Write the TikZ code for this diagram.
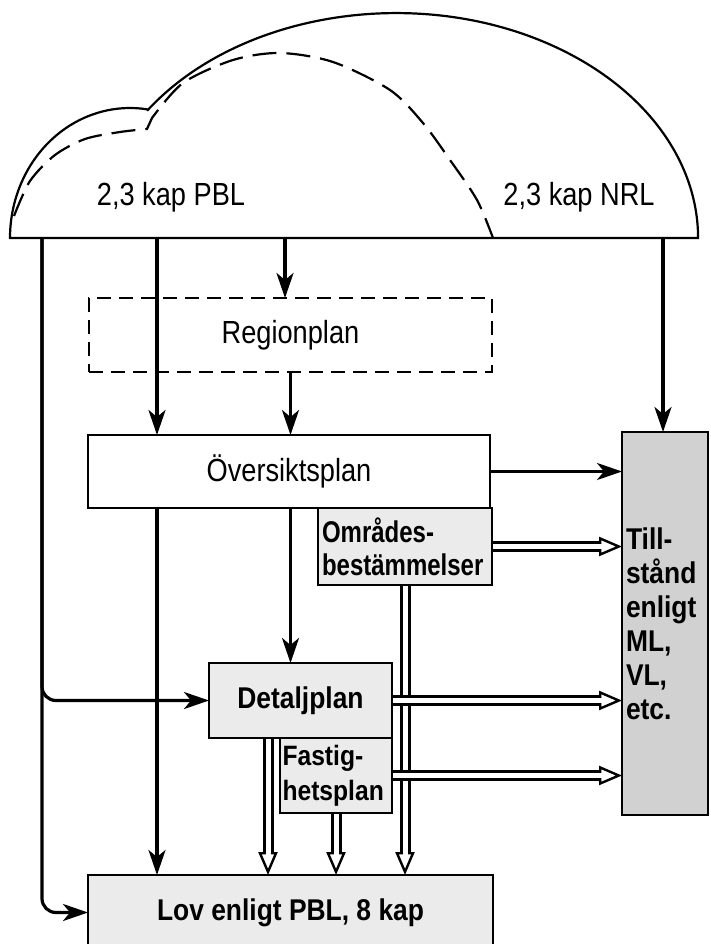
\documentclass[tikz,border=0pt]{standalone}
\usepackage{fontspec}
\setmainfont{Liberation Sans}[FakeStretch=0.85]
\newfontfamily\condfont{Liberation Sans}[FakeStretch=0.88]
\newfontfamily\narrowfont{Liberation Sans}[FakeStretch=0.8]
\usetikzlibrary{arrows.meta}
\begin{document}
\begin{tikzpicture}[x=1pt,y=1pt,
    font=\fontsize{32}{36}\selectfont,
    box/.style={draw,line width=2.6pt,inner sep=0pt,outer sep=0pt},
    greybox/.style={box,fill=black!8,font=\condfont\fontsize{30}{34}\selectfont\bfseries},
    arr/.style={line width=3.2pt,-{Stealth[length=25pt,width=17pt,inset=7pt]}},
    hollow/.style={line width=11pt,-{Triangle[length=23pt,width=19pt,line width=2.4pt,fill=white]},
        postaction={draw=white,line width=5pt,-,shorten >=19pt,shorten <=1.4pt}} ]
    \useasboundingbox (0,0) rectangle (710,-944);
    % the cloud
    \draw [line width=2.2pt] (10,-238) arc[start angle=180,end angle=82,x radius=120,y radius=130]
        -- (147.8,-110) arc[start angle=145.3,end angle=0,x radius=302,y radius=225] -- cycle;
    \draw [line width=2.2pt,dash pattern=on 24pt off 10pt]
        plot[smooth] coordinates {(14,-216) (30,-181) (55,-155) (85,-139) (120,-132) (147,-129)}
        -- plot[smooth] coordinates {(152,-118) (183,-83) (233,-60) (280,-53) (333,-62)
        (390,-90) (423,-123) (450,-160) (477,-200) (493,-238)};
    \node at (171,-197) (pbl) {2,3 kap PBL};
    \node at (579,-197) (nrl) {2,3 kap NRL};
    \coordinate (c1) at (42,-238);
    \coordinate (c2) at (157,-238);
    \coordinate (c3) at (285,-238);
    \coordinate (c4) at (663,-238);
    % plans
    \node at (290.5,-335) [box,dash pattern=on 14pt off 8pt,minimum width=403pt,minimum height=74pt] (region) {Regionplan};
    \node at (289,-471.5) [box,minimum width=402pt,minimum height=73pt] (oversikt) {Översiktsplan};
    \node at (405,-546.5) [greybox,minimum width=174pt,minimum height=77pt,text width=166pt,align=left,
        font=\narrowfont\fontsize{30}{33}\selectfont\bfseries] (omrades) {Områdes-\\bestämmelser};
    \node at (300.5,-700.5) [greybox,minimum width=183pt,minimum height=75pt] (detalj) {Detaljplan};
    \node at (336,-775.5) [greybox,minimum width=112pt,minimum height=75pt,text width=107pt,align=left,
        font=\condfont\fontsize{28}{35}\selectfont\bfseries] (fastig) {Fastig-\\hetsplan};
    \node at (290.5,-912.5) [greybox,minimum width=405pt,minimum height=75pt] (lov) {Lov enligt PBL, 8 kap};
    \node at (665,-623.5) [greybox,fill=black!18,minimum width=86pt,minimum height=383pt,text width=78pt,align=left]
        (tillstand) {Till-\\stånd\\enligt\\ML,\\VL,\\etc.};
    % plain arrows
    \draw [arr] (c2) -- (c2 |- oversikt.north);
    \draw [arr] (c3) -- (c3 |- region.north);
    \draw [arr] (region.south) -- (region.south |- oversikt.north);
    \draw [arr] (c4) -- (c4 |- tillstand.north);
    \draw [arr] (oversikt.east) -- (oversikt.east -| tillstand.west);
    \draw [arr] (c2 |- oversikt.south) -- (c2 |- lov.north);
    \draw [arr] (region.south |- oversikt.south) -- (region.south |- detalj.north);
    \draw [arr,rounded corners=14pt] (c1) |- (detalj.west);
    \draw [arr,rounded corners=14pt] (c1) |- (lov.west);
    % hollow arrows
    \coordinate (dd) at ([xshift=-32.5pt]detalj.south);
    \draw [hollow] (dd) -- (dd |- lov.north);
    \draw [hollow] (fastig.south) -- (fastig.south |- lov.north);
    \draw [hollow] (omrades.south) -- (omrades.south |- lov.north);
    \draw [hollow] (omrades.east) -- (omrades.east -| tillstand.west);
    \draw [hollow] (detalj.east) -- (detalj.east -| tillstand.west);
    \draw [hollow] (fastig.east) -- (fastig.east -| tillstand.west);
\end{tikzpicture}
\end{document}
